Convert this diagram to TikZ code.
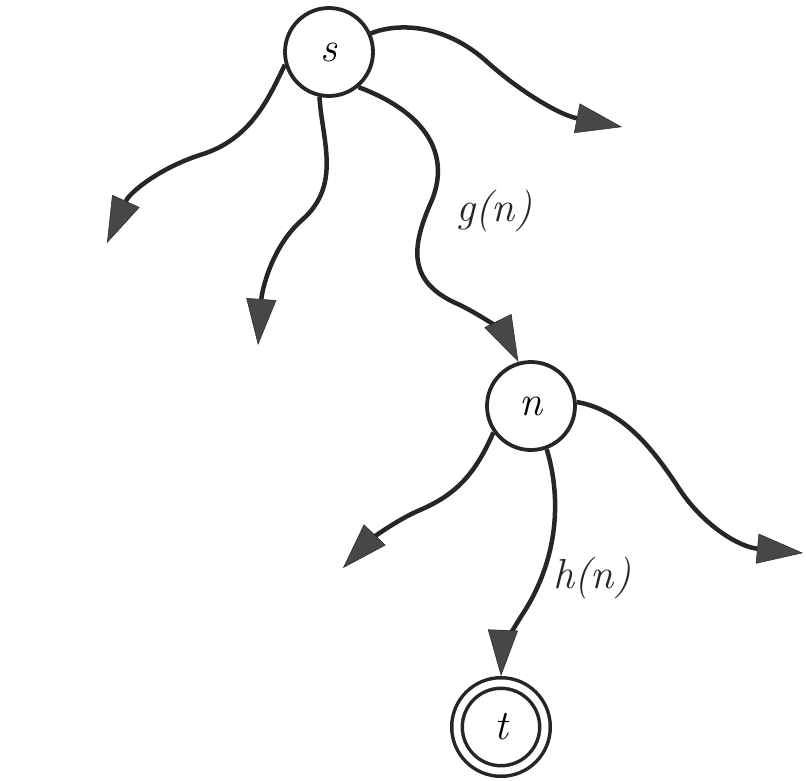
\documentclass[tikz,border=0pt]{standalone}
\usetikzlibrary{arrows.meta}
\tikzset{
  state/.style={circle, draw=black!85, line width=3.8pt, minimum size=88pt, inner sep=0pt, fill=white,
    font=\fontsize{42}{48}\selectfont\itshape},
  goal/.style={circle, draw=black!85, line width=3.5pt, double=white, double distance=7pt,
    minimum size=88pt, inner sep=0pt, outer sep=7pt, font=\fontsize{42}{48}\selectfont\itshape},
  edge/.style={draw=black!85, line width=4.5pt, line cap=butt,
    -{Triangle[length=46pt, width=30pt, fill=black!72, line width=0.5pt]}},
  lbl/.style={font=\fontsize{42}{48}\selectfont\itshape, inner sep=0pt, text=black!85}
}
\begin{document}
\begin{tikzpicture}[x=1pt, y=-1pt]
  \useasboundingbox (0,0) rectangle (806,780);
  % nodes
  \node[state] (s) at (329,52) {s};
  \node[state] (n) at (531,406) {n};
  \node[goal]  (t) at (501,727) {t};
  % free ends
  \coordinate (e1) at (622,127);
  \coordinate (e2) at (107,243);
  \coordinate (e3) at (258,345);
  \coordinate (e5) at (343,568);
  \coordinate (e6) at (803,553);
  % edges from s
  \draw[edge] (s.24) .. controls (400,22) and (445,25) .. (485,60)
                     .. controls (520,92) and (560,115) .. (e1);
  \draw[edge] (s.196) .. controls (268,100) and (250,140) .. (200,155)
                      .. controls (160,168) and (130,192) .. (e2);
  \draw[edge] (s.258) .. controls (322,140) and (342,185) .. (302,220)
                      .. controls (272,246) and (262,290) .. (e3);
  \draw[edge] (s.-50) .. controls (420,110) and (452,150) .. (432,200)
                      .. controls (412,245) and (405,282) .. (460,305)
                      .. controls (490,320) and (505,335) .. (n.106);
  % edges from n
  \draw[edge] (n.215) .. controls (475,475) and (455,495) .. (420,510)
                      .. controls (390,523) and (365,545) .. (e5);
  \draw[edge] (n.5) .. controls (622,410) and (652,447) .. (680,490)
                    .. controls (705,527) and (740,547) .. (e6);
  \draw[edge] (n.-70) .. controls (565,510) and (552,570) .. (522,615)
                      .. controls (508,637) and (502,652) .. (t.north);
  % labels
  \node[lbl] at (494,211) {g(n)};
  \node[lbl] at (592,578) {h(n)};
\end{tikzpicture}
\end{document}
